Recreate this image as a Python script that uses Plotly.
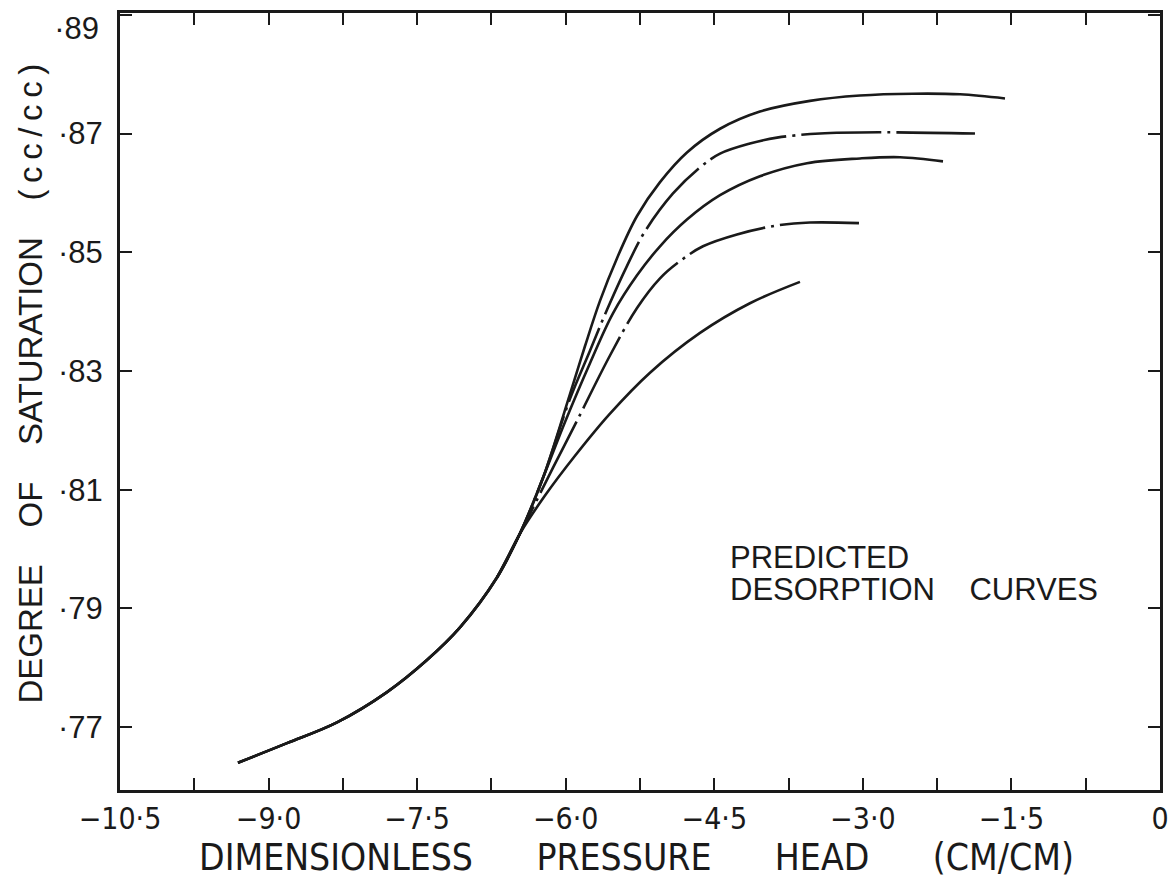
import plotly.graph_objects as go

# Shared wet-end trunk of the desorption curves
base_x = [-9.309, -8.814, -8.309, -7.804, -7.401, -7.067, -6.694, -6.462]
base_y = [0.7640, 0.7673, 0.7708, 0.7759, 0.7813, 0.7868, 0.7952, 0.8026]

# Branches of the five predicted desorption curves, top to bottom
c1_x = [-6.229, -5.957, -5.805, -5.654, -5.482, -5.280, -5.048, -4.776, -4.442,
        -4.039, -3.534, -3.029, -2.494, -2.019, -1.565]
c1_y = [0.8120, 0.8261, 0.8342, 0.8418, 0.8490, 0.8561, 0.8618, 0.8668, 0.8708,
        0.8737, 0.8755, 0.8764, 0.8767, 0.8766, 0.8759]

c2_x = [-6.229, -5.957, -5.755, -5.583, -5.381, -5.200, -4.917, -4.644, -4.442,
        -4.140, -3.867, -3.433, -2.827, -1.868]
c2_y = [0.8120, 0.8253, 0.8334, 0.8403, 0.8477, 0.8535, 0.8599, 0.8643, 0.8666,
        0.8683, 0.8693, 0.8700, 0.8702, 0.8700]

c3_x = [-6.229, -6.007, -5.755, -5.523, -5.280, -5.048, -4.776, -4.442, -4.039,
        -3.564, -3.029, -2.625, -2.191]
c3_y = [0.8120, 0.8214, 0.8313, 0.8397, 0.8461, 0.8510, 0.8555, 0.8596, 0.8628,
        0.8650, 0.8658, 0.8660, 0.8653]

c4_x = [-6.128, -5.886, -5.553, -5.280, -5.048, -4.846, -4.614, -4.271, -3.867,
        -3.534, -3.039]
c4_y = [0.8137, 0.8216, 0.8326, 0.8406, 0.8456, 0.8485, 0.8510, 0.8530, 0.8545,
        0.8550, 0.8549]

c5_x = [-6.209, -5.906, -5.553, -5.149, -4.644, -4.140, -3.635]
c5_y = [0.8090, 0.8157, 0.8228, 0.8297, 0.8364, 0.8414, 0.8450]

x_tick_vals = [-10.5, -9.75, -9.0, -8.25, -7.5, -6.75, -6.0, -5.25, -4.5,
               -3.75, -3.0, -2.25, -1.5, -0.75, 0.0]
x_tick_text = ["\u221210\u00b75", "", "\u22129\u00b70", "", "\u22127\u00b75", "",
               "\u22126\u00b70", "", "\u22124\u00b75", "", "\u22123\u00b70", "",
               "\u22121\u00b75", "", "0"]
y_tick_vals = [0.77, 0.79, 0.81, 0.83, 0.85, 0.87, 0.89]
y_tick_text = ["\u00b777", "\u00b779", "\u00b781", "\u00b783", "\u00b785",
               "\u00b787", "\u00b789"]

Y_RANGE = [0.7594, 0.8903]
INK = "#1a1a1a"
NARROW = "Liberation Sans Narrow, DejaVu Sans Condensed, Arial Narrow, sans-serif"
REGULAR = "Liberation Sans, Arial, sans-serif"
DASHDOT = "80px,6px,3px,6px"
NB = "\u00a0"
THIN = "\u2009"

fig = go.Figure()


def add_curve(bx, by, xs, ys, dash="solid"):
    fig.add_trace(go.Scatter(
        x=bx + xs, y=by + ys, mode="lines",
        line=dict(color=INK, width=2.6, shape="spline", smoothing=1.0, dash=dash),
        hoverinfo="skip", showlegend=False,
    ))


# solid curves carry the full trunk; dash-dot ones start at the split point
add_curve(base_x, base_y, c5_x, c5_y)
add_curve(base_x, base_y, c3_x, c3_y)
add_curve(base_x, base_y, c1_x, c1_y)
add_curve(base_x[-2:], base_y[-2:], c2_x, c2_y, DASHDOT)
add_curve(base_x[-2:], base_y[-2:], c4_x, c4_y, DASHDOT)

# empty trace that binds the overlay axis carrying the top label
fig.add_trace(go.Scatter(x=[], y=[], yaxis="y2", showlegend=False, hoverinfo="skip"))

# in-plot legend text
fig.add_annotation(
    x=-4.36, y=0.7985, xref="x", yref="y", xanchor="left", yanchor="middle",
    text="PREDICTED", showarrow=False,
    font=dict(family=REGULAR, size=31, color=INK),
)
fig.add_annotation(
    x=-4.36, y=0.7932, xref="x", yref="y", xanchor="left", yanchor="middle",
    text="DESORPTION" + NB * 4 + "CURVES", showarrow=False,
    font=dict(family=REGULAR, size=31, color=INK),
)

# axis titles, placed as free text for exact positioning
gap = NB * 6
fig.add_annotation(
    x=0.497, y=-0.0875, xref="paper", yref="paper", xanchor="center", yanchor="middle",
    text="DIMENSIONLESS" + gap + "PRESSURE" + gap + "HEAD" + gap + "(CM/CM)",
    showarrow=False, font=dict(family=NARROW, size=37, color=INK),
)
ygap = NB * 4
fig.add_annotation(
    x=-0.0865, y=0.5232, xref="paper", yref="paper", xanchor="center", yanchor="middle",
    text="DEGREE" + ygap + "OF" + ygap + "SATURATION" + ygap + THIN.join("(cc/cc)"),
    textangle=-90, showarrow=False, font=dict(family=REGULAR, size=33, color=INK),
)

fig.update_layout(
    width=1172, height=879,
    margin=dict(l=120, r=12, t=13, b=89),
    paper_bgcolor="white", plot_bgcolor="white",
    font=dict(family=REGULAR, color=INK, size=24),
)

fig.update_xaxes(
    range=[-10.5, 0], tickmode="array", tickvals=x_tick_vals, ticktext=x_tick_text,
    ticks="inside", ticklen=12, tickwidth=2, tickcolor=INK,
    showline=True, linewidth=3, linecolor=INK, mirror="ticks",
    showgrid=False, zeroline=False, ticklabelstandoff=0, automargin=False,
    ticklabeloverflow="allow",
    tickfont=dict(family=NARROW, size=30, color=INK),
)

# main y axis: all tick marks, labels except the one on the top frame line
fig.update_layout(yaxis=dict(
    range=Y_RANGE, tickmode="array", tickvals=y_tick_vals,
    ticktext=y_tick_text[:-1] + [""],
    ticks="inside", ticklen=12, tickwidth=2, tickcolor=INK,
    showline=True, linewidth=3, linecolor=INK, mirror="ticks",
    showgrid=False, zeroline=False, ticklabelstandoff=8, automargin=False,
    tickfont=dict(family=REGULAR, size=31, color=INK),
))

# overlay axis: the top label, set just below the frame line
fig.update_layout(yaxis2=dict(
    overlaying="y", side="left", range=Y_RANGE, tickmode="array",
    tickvals=y_tick_vals[-1:], ticktext=y_tick_text[-1:],
    ticks="", showline=False, showgrid=False, zeroline=False,
    ticklabelstandoff=20, ticklabelshift=13, automargin=False,
    ticklabeloverflow="allow",
    tickfont=dict(family=REGULAR, size=31, color=INK),
))

fig.write_html("out.html")
